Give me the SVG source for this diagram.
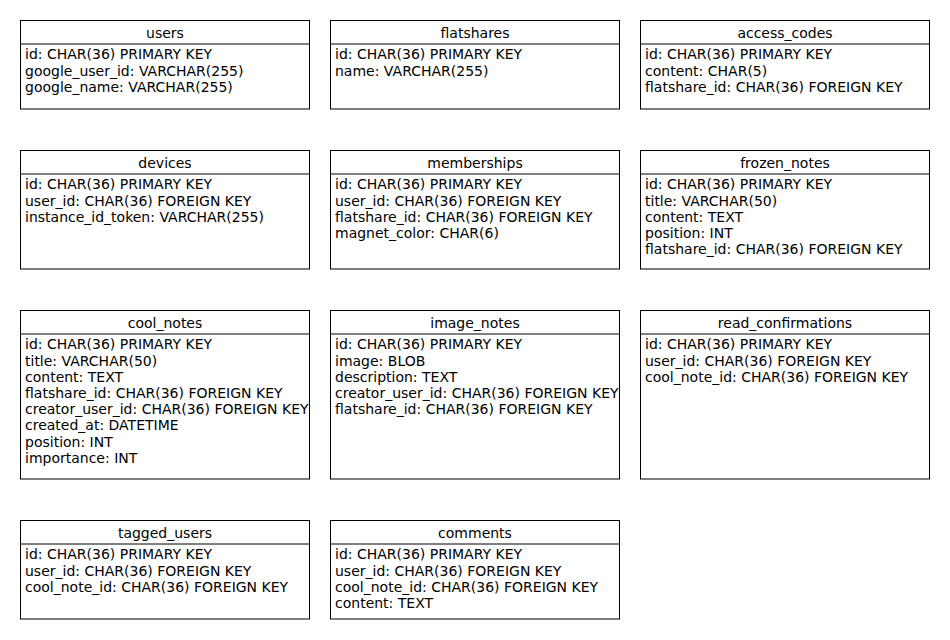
<svg xmlns="http://www.w3.org/2000/svg" width="950" height="640" viewBox="0 0 950 640">
<style>
.box{fill:#fff;stroke:#000;stroke-width:1}
.sep{stroke:#000;stroke-width:1}
text{font-family:"DejaVu Sans",sans-serif;font-size:14px;fill:#000}
.t{text-anchor:middle}
</style>
<rect width="950" height="640" fill="#fff"/>
<g id="users">
<rect class="box" x="20.5" y="20.5" width="289" height="88.5"/>
<line class="sep" x1="20.5" y1="44" x2="309.5" y2="44"/>
<text class="t" x="165" y="38">users</text>
<text x="25" y="59.3">id: CHAR(36) PRIMARY KEY</text>
<text x="25" y="75.5">google_user_id: VARCHAR(255)</text>
<text x="25" y="91.7">google_name: VARCHAR(255)</text>
</g>
<g id="flatshares">
<rect class="box" x="330.5" y="20.5" width="289" height="88.5"/>
<line class="sep" x1="330.5" y1="44" x2="619.5" y2="44"/>
<text class="t" x="475" y="38">flatshares</text>
<text x="335" y="59.3">id: CHAR(36) PRIMARY KEY</text>
<text x="335" y="75.5">name: VARCHAR(255)</text>
</g>
<g id="access_codes">
<rect class="box" x="640.5" y="20.5" width="289" height="88.5"/>
<line class="sep" x1="640.5" y1="44" x2="929.5" y2="44"/>
<text class="t" x="785" y="38">access_codes</text>
<text x="645" y="59.3">id: CHAR(36) PRIMARY KEY</text>
<text x="645" y="75.5">content: CHAR(5)</text>
<text x="645" y="91.7">flatshare_id: CHAR(36) FOREIGN KEY</text>
</g>
<g id="devices">
<rect class="box" x="20.5" y="150.5" width="289" height="118.5"/>
<line class="sep" x1="20.5" y1="174" x2="309.5" y2="174"/>
<text class="t" x="165" y="168">devices</text>
<text x="25" y="189.3">id: CHAR(36) PRIMARY KEY</text>
<text x="25" y="205.5">user_id: CHAR(36) FOREIGN KEY</text>
<text x="25" y="221.7">instance_id_token: VARCHAR(255)</text>
</g>
<g id="memberships">
<rect class="box" x="330.5" y="150.5" width="289" height="118.5"/>
<line class="sep" x1="330.5" y1="174" x2="619.5" y2="174"/>
<text class="t" x="475" y="168">memberships</text>
<text x="335" y="189.3">id: CHAR(36) PRIMARY KEY</text>
<text x="335" y="205.5">user_id: CHAR(36) FOREIGN KEY</text>
<text x="335" y="221.7">flatshare_id: CHAR(36) FOREIGN KEY</text>
<text x="335" y="237.9">magnet_color: CHAR(6)</text>
</g>
<g id="frozen_notes">
<rect class="box" x="640.5" y="150.5" width="289" height="118.5"/>
<line class="sep" x1="640.5" y1="174" x2="929.5" y2="174"/>
<text class="t" x="785" y="168">frozen_notes</text>
<text x="645" y="189.3">id: CHAR(36) PRIMARY KEY</text>
<text x="645" y="205.5">title: VARCHAR(50)</text>
<text x="645" y="221.7">content: TEXT</text>
<text x="645" y="237.9">position: INT</text>
<text x="645" y="254.1">flatshare_id: CHAR(36) FOREIGN KEY</text>
</g>
<g id="cool_notes">
<rect class="box" x="20.5" y="310.5" width="289" height="168.5"/>
<line class="sep" x1="20.5" y1="334" x2="309.5" y2="334"/>
<text class="t" x="165" y="328">cool_notes</text>
<text x="25" y="349.3">id: CHAR(36) PRIMARY KEY</text>
<text x="25" y="365.5">title: VARCHAR(50)</text>
<text x="25" y="381.7">content: TEXT</text>
<text x="25" y="397.9">flatshare_id: CHAR(36) FOREIGN KEY</text>
<text x="25" y="414.1">creator_user_id: CHAR(36) FOREIGN KEY</text>
<text x="25" y="430.3">created_at: DATETIME</text>
<text x="25" y="446.5">position: INT</text>
<text x="25" y="462.7">importance: INT</text>
</g>
<g id="image_notes">
<rect class="box" x="330.5" y="310.5" width="289" height="168.5"/>
<line class="sep" x1="330.5" y1="334" x2="619.5" y2="334"/>
<text class="t" x="475" y="328">image_notes</text>
<text x="335" y="349.3">id: CHAR(36) PRIMARY KEY</text>
<text x="335" y="365.5">image: BLOB</text>
<text x="335" y="381.7">description: TEXT</text>
<text x="335" y="397.9">creator_user_id: CHAR(36) FOREIGN KEY</text>
<text x="335" y="414.1">flatshare_id: CHAR(36) FOREIGN KEY</text>
</g>
<g id="read_confirmations">
<rect class="box" x="640.5" y="310.5" width="289" height="168.5"/>
<line class="sep" x1="640.5" y1="334" x2="929.5" y2="334"/>
<text class="t" x="785" y="328">read_confirmations</text>
<text x="645" y="349.3">id: CHAR(36) PRIMARY KEY</text>
<text x="645" y="365.5">user_id: CHAR(36) FOREIGN KEY</text>
<text x="645" y="381.7">cool_note_id: CHAR(36) FOREIGN KEY</text>
</g>
<g id="tagged_users">
<rect class="box" x="20.5" y="520.5" width="289" height="98.5"/>
<line class="sep" x1="20.5" y1="544" x2="309.5" y2="544"/>
<text class="t" x="165" y="538">tagged_users</text>
<text x="25" y="559.3">id: CHAR(36) PRIMARY KEY</text>
<text x="25" y="575.5">user_id: CHAR(36) FOREIGN KEY</text>
<text x="25" y="591.7">cool_note_id: CHAR(36) FOREIGN KEY</text>
</g>
<g id="comments">
<rect class="box" x="330.5" y="520.5" width="289" height="98.5"/>
<line class="sep" x1="330.5" y1="544" x2="619.5" y2="544"/>
<text class="t" x="475" y="538">comments</text>
<text x="335" y="559.3">id: CHAR(36) PRIMARY KEY</text>
<text x="335" y="575.5">user_id: CHAR(36) FOREIGN KEY</text>
<text x="335" y="591.7">cool_note_id: CHAR(36) FOREIGN KEY</text>
<text x="335" y="607.9">content: TEXT</text>
</g>
<g id="connectors"></g>
</svg>
